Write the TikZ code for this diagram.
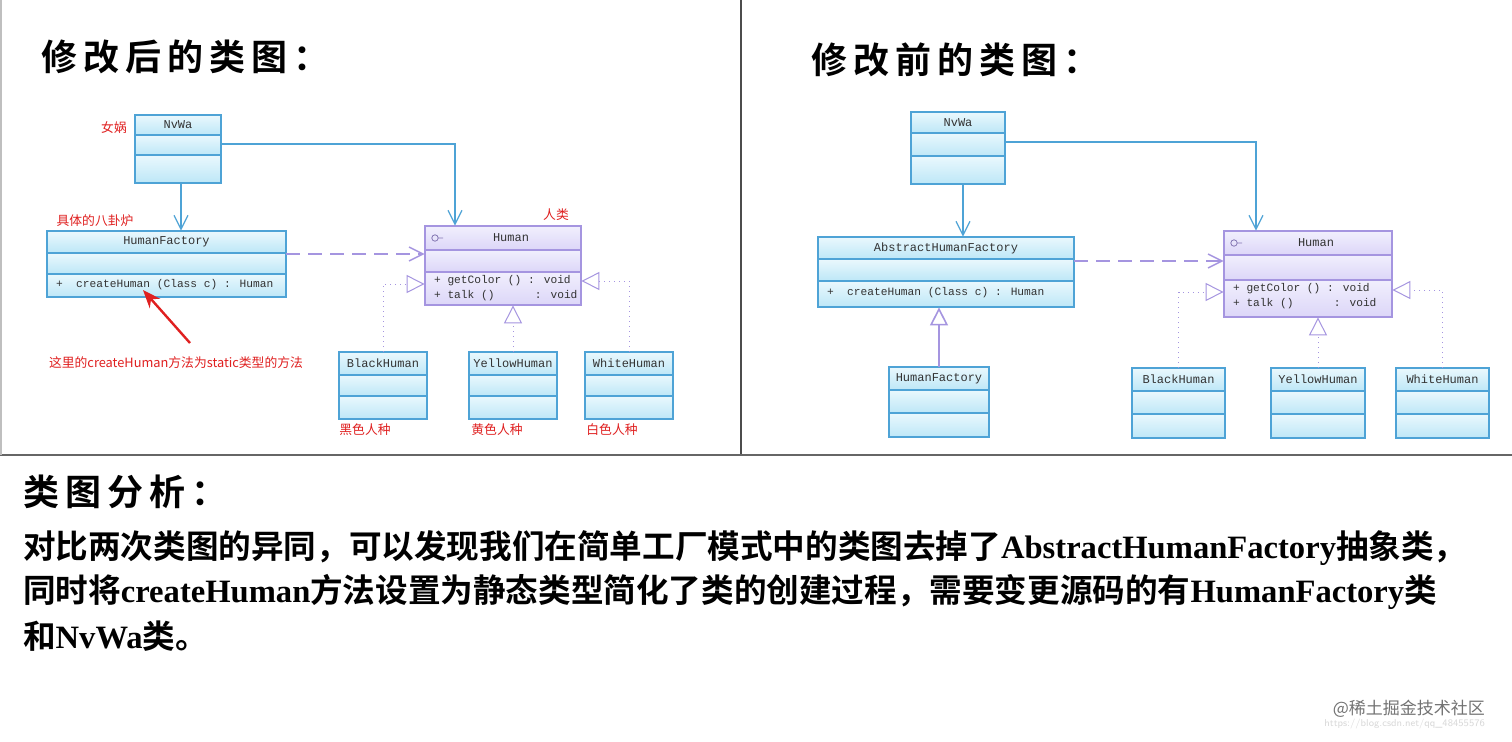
\documentclass[tikz,border=0pt]{standalone}
\usepackage{fontspec}
\setmainfont{Liberation Serif}
\newfontfamily\cjk{Noto Sans CJK SC}
\newfontfamily\cjkb{Noto Sans CJK SC Bold}
\newfontfamily\mono{Liberation Mono}
\usetikzlibrary{arrows.meta,fit,calc}
\definecolor{bA}{HTML}{EAF8FD}
\definecolor{bB}{HTML}{BDE7F7}
\definecolor{bD}{HTML}{4EA3D6}
\definecolor{pA}{HTML}{F1EFFD}
\definecolor{pB}{HTML}{DCD6F8}
\definecolor{pD}{HTML}{A595E0}
\definecolor{rr}{HTML}{E02020}
\tikzset{
 assoc/.style={draw=bD,line width=0.6pt,-{Straight Barb[length=7pt,width=7pt]}},
 dep/.style={draw=pD,line width=0.7pt,dash pattern=on 7pt off 4pt,-{Straight Barb[length=7pt,width=7pt]}},
 real/.style={draw=pD,line width=0.5pt,dotted,-{Triangle[open,fill=white,length=9pt,width=9pt]}},
 gen/.style={draw=pD,line width=0.8pt,-{Triangle[open,fill=white,length=9pt,width=9pt]}},
 ttl/.style={font=\mono\fontsize{6}{7}\selectfont,text=black!80},
 mem/.style={font=\mono\fontsize{5.6}{7}\selectfont,text=black!80,anchor=west},
 red/.style={font=\cjk\fontsize{6.4}{7}\selectfont,text=rr},
 head/.style={font=\cjkb\fontsize{18}{20}\selectfont,anchor=west},
 body/.style={font=\cjkb\fontsize{16.3}{22}\selectfont,anchor=west},
}
\newcommand{\ucls}[8]{%
 \shade[top color=bA,bottom color=bB,draw=bD,line width=0.6pt] (#2,#3) rectangle (#4,#6);
 \shade[top color=bA,bottom color=bB,draw=bD,line width=0.6pt] (#2,#6) rectangle (#4,#7);
 \shade[top color=bA,bottom color=bB,draw=bD,line width=0.6pt] (#2,#7) rectangle (#4,#5);
 \coordinate (#1-nw) at (#2,#3); \coordinate (#1-se) at (#4,#5);
 \node[fit=(#1-nw)(#1-se),inner sep=0pt] (#1) {};
 \node[ttl] at ({(#2+#4)/2},{(#3+#6)/2}) {#8};}
\newcommand{\uhum}[7]{%
 \shade[top color=pA,bottom color=pB,draw=pD,line width=0.6pt] (#2,#3) rectangle (#4,#6);
 \shade[top color=pA,bottom color=pB,draw=pD,line width=0.6pt] (#2,#6) rectangle (#4,#7);
 \shade[top color=pA,bottom color=pB,draw=pD,line width=0.6pt] (#2,#7) rectangle (#4,#5);
 \coordinate (#1-nw) at (#2,#3); \coordinate (#1-se) at (#4,#5);
 \node[fit=(#1-nw)(#1-se),inner sep=0pt] (#1) {};
 \node[ttl] at ({(#2+#4)/2+8},{(#3+#6)/2}) {Human};
 \draw[pD!80!black,line width=0.4pt] ({#2+10},{(#3+#6)/2}) circle (1.6pt) ({#2+13},{(#3+#6)/2}) -- ({#2+18},{(#3+#6)/2});
 \node[mem] at ({#2+2},{#7+9}) {+ getColor () : void};
 \node[mem] at ({#2+2},{#7+24}) {+ talk ()\ \ \ \ \ \ : void};}
\begin{document}
\begin{tikzpicture}[x=0.5pt,y=-0.5pt]
\useasboundingbox (0,0) rectangle (1512,741);
\fill[white] (0,0) rectangle (1512,741);
\draw[black!70,line width=1pt] (741,0) coordinate (v1) -- (741,455) coordinate (v2);
\draw[black!60,line width=1pt] (0,455) coordinate (h1a) -- (1512,455) coordinate (h1b);
\draw[black!25,line width=0.6pt] (1,0) -- (1,455);
% headings
\node[head] (hl) at (34,57) {修\,改\,后\,的\,类\,图\,：};
\node[head] (hr) at (804,60) {修\,改\,前\,的\,类\,图\,：};
\node[head] (ha) at (16,492) {类\,图\,分\,析\,：};
\node[body] (b1) at (16,548) {对比两次类图的异同，可以发现我们在简单工厂模式中的类图去掉了{\bfseries\rmfamily AbstractHumanFactory}抽象类，};
\node[body] (b2) at (16,592) {同时将{\bfseries\rmfamily createHuman}方法设置为静态类型简化了类的创建过程，需要变更源码的有{\bfseries\rmfamily HumanFactory}类};
\node[body] (b3) at (16,636) {和{\bfseries\rmfamily NvWa}类。};
\node[font=\cjk\fontsize{8.5}{10}\selectfont,text=black!55,anchor=east] (wm) at (1492,709) {@稀土掘金技术社区};
\node[font=\sffamily\fontsize{5}{6}\selectfont,text=black!15,anchor=east] (wu) at (1492,724) {https://blog.csdn.net/qq\_48455576};
% ---------- left diagram ----------
\ucls{nw1}{135}{115}{221}{183}{135}{155}{NvWa}
\ucls{hf1}{47}{231}{286}{297}{253}{274}{HumanFactory}
\node[mem] at (49,285) {+\ \ createHuman (Class c) : Human};
\uhum{hu1}{425}{226}{581}{305}{250}{272}
\ucls{bh1}{339}{352}{427}{419}{375}{396}{BlackHuman}
\ucls{yh1}{469}{352}{557}{419}{375}{396}{YellowHuman}
\ucls{wh1}{585}{352}{673}{419}{375}{396}{WhiteHuman}
\draw[assoc] ([xshift=1.5pt]nw1.south) -- ([xshift=1.5pt]hf1.north -| nw1.south);
\draw[assoc] (nw1-se |- 0,144) -| ([xshift=-24pt]hu1.north);
\draw[dep] (hf1.east |- 0,254) -- (hu1.west |- 0,254);
\draw[real] (bh1.north) |- (hu1.west |- 0,284);
\draw[real] (yh1.north) -- (yh1.north |- hu1.south);
\draw[real] (wh1.north) |- (hu1.east |- 0,281);
\node[red] (l1) at (114,128) {女娲};
\node[red] (l2) at (95,221) {具体的八卦炉};
\node[red] (l3) at (556,215) {人类};
\node[red] (l4) at (365,430) {黑色人种};
\node[red] (l5) at (497,430) {黄色人种};
\node[red] (l6) at (612,430) {白色人种};
\node[red] (l7) at (176,363) {这里的createHuman方法为static类型的方法};
\coordinate (ap) at (143,290);
\draw[rr,line width=1.2pt,-{Stealth[length=9pt,width=7pt]}] (190,343) -- (ap);
% ---------- right diagram ----------
\ucls{nw2}{911}{112}{1005}{184}{133}{156}{NvWa}
\ucls{ah2}{818}{237}{1074}{307}{259}{281}{AbstractHumanFactory}
\node[mem] at (820,293) {+\ \ createHuman (Class c) : Human};
\ucls{hf2}{889}{367}{989}{437}{390}{413}{HumanFactory}
\uhum{hu2}{1224}{231}{1392}{317}{255}{280}
\ucls{bh2}{1132}{368}{1225}{438}{391}{414}{BlackHuman}
\ucls{yh2}{1271}{368}{1365}{438}{391}{414}{YellowHuman}
\ucls{wh2}{1396}{368}{1489}{438}{391}{414}{WhiteHuman}
\draw[assoc] ([xshift=2.5pt]nw2.south) -- ([xshift=2.5pt]nw2.south |- ah2.north);
\draw[assoc] (nw2-se |- 0,142) -| ([xshift=-26pt]hu2.north);
\draw[dep] (ah2.east |- 0,261) -- (hu2.west |- 0,261);
\draw[gen] (hf2.north) -- (hf2.north |- ah2.south);
\draw[real] (bh2.north) |- (hu2.west |- 0,292);
\draw[real] (yh2.north) -- (yh2.north |- hu2.south);
\draw[real] (wh2.north) |- (hu2.east |- 0,290);
\end{tikzpicture}
\end{document}
